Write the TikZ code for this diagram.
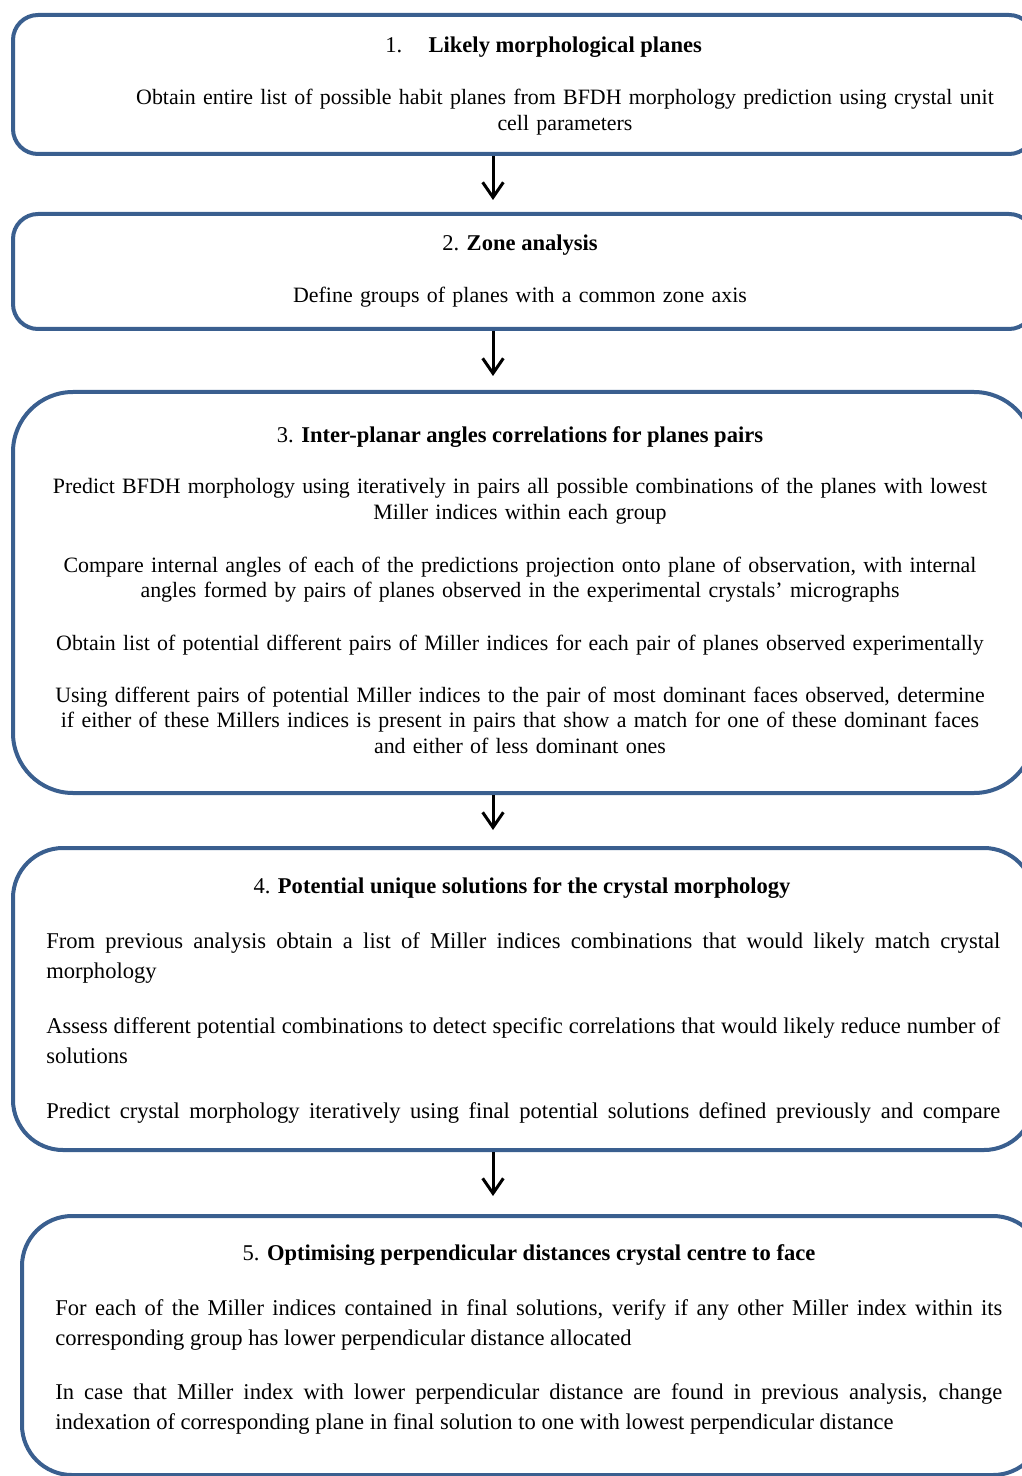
\documentclass[tikz,border=0pt]{standalone}
\usepackage{fontspec}
\setmainfont{Liberation Serif}
\usetikzlibrary{arrows.meta}
\definecolor{boxblue}{HTML}{3A5F8F}
\newdimen\pxu \pxu=0.532pt

\begin{document}
\begin{tikzpicture}[x=\pxu, y=-\pxu,
    every node/.style={font=\fontsize{11.65}{13.8}\selectfont},
    stepbox/.style={draw=boxblue, line width=4\pxu, anchor=north west,
      minimum width=1021\pxu, inner sep=0pt},
    flow/.style={-{Straight Barb[length=8pt, width=11pt, line width=1.6pt]}, line width=3\pxu},
    head/.style={anchor=base, inner sep=0pt, font=\fontsize{12}{13.8}\selectfont},
    body/.style={anchor=base, inner sep=0pt, text width=#1\pxu, align=center},
    just/.style={anchor=base west, inner sep=0pt, text width=#1\pxu, align=justify,
      font=\fontsize{12}{16}\selectfont}]
  \useasboundingbox (0,0) rectangle (1021,1476);
  % the five boxes
  \node[stepbox, rounded corners=25\pxu, minimum height=139\pxu] (b1) at (11,13) {};
  \node[stepbox, rounded corners=25\pxu, minimum height=115\pxu] (b2) at (11,212) {};
  \node[stepbox, rounded corners=60\pxu, minimum height=401\pxu] (b3) at (11,390) {};
  \node[stepbox, rounded corners=50\pxu, minimum height=302\pxu] (b4) at (11,846) {};
  \node[stepbox, rounded corners=50\pxu, minimum height=259\pxu] (b5) at (20,1214) {};
  % arrows between them
  \coordinate (ax) at (493,0);
  \draw[flow] (ax |- b1.south) -- ([yshift=12\pxu] ax |- b2.north);
  \draw[flow] (ax |- b2.south) -- ([yshift=14\pxu] ax |- b3.north);
  \draw[flow] (ax |- b3.south) -- ([yshift=16\pxu] ax |- b4.north);
  \draw[flow] (ax |- b4.south) -- ([yshift=18\pxu] ax |- b5.north);
  % box 1
  \node[head, anchor=base west] (h1) at (385,53) {1.\hspace{14pt}\textbf{Likely morphological planes}};
  \node[body=900] (t1) at (565,105) {Obtain entire list of possible habit planes from BFDH morphology prediction using crystal unit\\ cell parameters};
  % box 2
  \node[head] (h2) at (520,251) {2. \textbf{Zone analysis}};
  \node[body=900] (t2) at (520,303) {Define groups of planes with a common zone axis};
  % box 3
  \node[head] (h3) at (520,442) {3. \textbf{Inter-planar angles correlations for planes pairs}};
  \node[body=980] (t3a) at (520,494) {Predict BFDH morphology using iteratively in pairs all possible combinations of the planes with lowest\\ Miller indices within each group};
  \node[body=980] (t3b) at (520,572) {Compare internal angles of each of the predictions projection onto plane of observation, with internal\\ angles formed by pairs of planes observed in the experimental crystals’ micrographs};
  \node[body=980] (t3c) at (520,650) {Obtain list of potential different pairs of Miller indices for each pair of planes observed experimentally};
  \node[body=980] (t3d) at (520,702) {Using different pairs of potential Miller indices to the pair of most dominant faces observed, determine\\ if either of these Millers indices is present in pairs that show a match for one of these dominant faces\\ and either of less dominant ones};
  % box 4
  \node[head] (h4) at (522,893) {4. \textbf{Potential unique solutions for the crystal morphology}};
  \node[just=954] (t4a) at (46,948) {From previous analysis obtain a list of Miller indices combinations that would likely match crystal\linebreak morphology};
  \node[just=954] (t4b) at (46,1033) {Assess different potential combinations to detect specific correlations that would likely reduce number of\linebreak solutions};
  \node[just=954] (t4c) at (46,1118) {Predict crystal morphology iteratively using final potential solutions defined previously and compare\linebreak\mbox{}};
  % box 5
  \node[head] (h5) at (529,1260) {5. \textbf{Optimising perpendicular distances crystal centre to face}};
  \node[just=947] (t5a) at (55,1315) {For each of the Miller indices contained in final solutions, verify if any other Miller index within its\linebreak corresponding group has lower perpendicular distance allocated};
  \node[just=947] (t5b) at (55,1399) {In case that Miller index with lower perpendicular distance are found in previous analysis, change\linebreak indexation of corresponding plane in final solution to one with lowest perpendicular distance};
\end{tikzpicture}
\end{document}
